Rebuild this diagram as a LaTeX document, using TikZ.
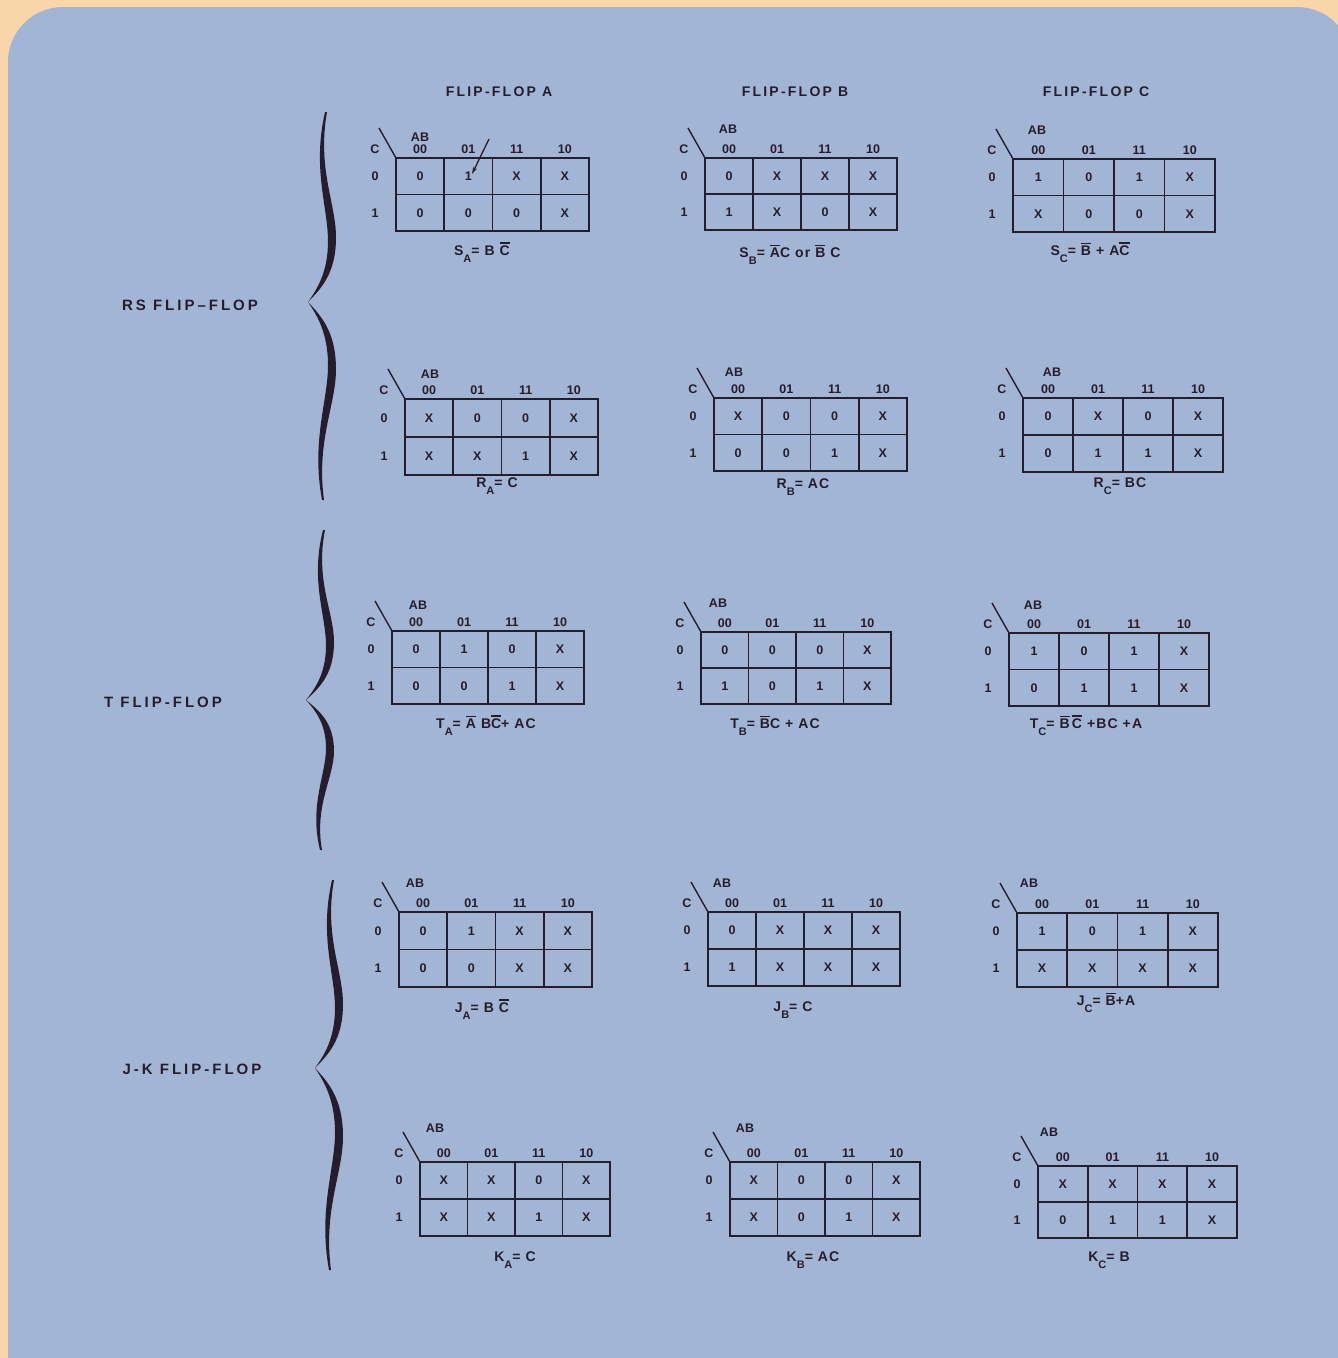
\documentclass[tikz,border=0pt]{standalone}
\usepackage{fontspec}
\setmainfont{Liberation Sans}
\newfontfamily\labfont[LetterSpace=16]{Liberation Sans}
\newfontfamily\sidefont[LetterSpace=20]{Liberation Sans}
\newfontfamily\eqfont[LetterSpace=8]{Liberation Sans}
\usetikzlibrary{arrows.meta}
\definecolor{bgorange}{HTML}{F8D6A8}
\definecolor{bgblue}{HTML}{A3B5D5}
\definecolor{ink}{HTML}{261D2C}
\newcommand{\ovl}[1]{\leavevmode\vbox{\hrule height 1.2pt\kern 1.6pt\hbox{#1}}}
\newcommand{\lsub}[1]{\raisebox{-1.0ex}{\fontsize{11}{11}\selectfont #1}}
\tikzset{
  gridline/.style={draw=ink, line width=1.8pt},
  cell/.style={text=ink, font=\bfseries\fontsize{12.5}{12.5}\selectfont, inner sep=0pt, anchor=center},
  hdr/.style={text=ink, font=\labfont\bfseries\fontsize{14}{14}\selectfont, inner sep=0pt},
  eqn/.style={text=ink, font=\eqfont\bfseries\fontsize{14}{14}\selectfont, inner sep=0pt, anchor=base},
  side/.style={text=ink, font=\sidefont\bfseries\fontsize{15}{15}\selectfont, inner sep=0pt},
}
% #1 name, #2 x0, #3 y0, #4 x1, #5 y1, #6 row0, #7 row1, #8 AB dx, #9 AB dy
\newcommand{\kmap}[9]{%
  \pgfmathsetmacro{\kw}{(#4-#2)/4}%
  \pgfmathsetmacro{\kh}{(#5-#3)/2}%
  \draw[gridline] (#2,#3) rectangle (#4,#5);
  \draw[gridline] (#2,{#3+\kh}) -- (#4,{#3+\kh});
  \foreach \i in {1,2,3} \draw[gridline] ({#2+\i*\kw},#3) -- ({#2+\i*\kw},#5);
  \foreach \v [count=\i] in {#6} \node[cell] (#1-a\i) at ({#2+(\i-0.5)*\kw},{#3+0.5*\kh}) {\v};
  \foreach \v [count=\i] in {#7} \node[cell] (#1-b\i) at ({#2+(\i-0.5)*\kw},{#3+1.5*\kh}) {\v};
  \foreach \v [count=\i] in {00,01,11,10} \node[cell] (#1-h\i) at ({#2+(\i-0.5)*\kw},{#3-9}) {\v};
  \node[cell] (#1-c) at ({#2-21},{#3-9}) {C};
  \node[cell] (#1-c0) at ({#2-21},{#3+0.5*\kh}) {0};
  \node[cell] (#1-c1) at ({#2-21},{#3+1.5*\kh}) {1};
  \node[cell] (#1-ab) at ({#2+#8},{#3+#9}) {AB};
  \coordinate (#1-d) at ({#2-17},{#3-30});
  \coordinate (#1-o) at (#2,#3);
  \draw[gridline, line width=1.4pt] (#1-d) -- (#1-o);
}
% #1 name, #2 xtip, #3 ytop, #4 ytip, #5 ybot
\newcommand{\fbrace}[5]{%
  \pgfmathsetmacro{\hu}{#4-#3}%
  \pgfmathsetmacro{\hl}{#5-#4}%
  \coordinate (#1-top) at ({#2+17},#3);
  \coordinate (#1-tip) at (#2,#4);
  \coordinate (#1-bot) at ({#2+14},#5);
  \fill[ink] (#1-top) .. controls ({#2+4},{#3+0.3*\hu}) and ({#2+20},{#3+0.5*\hu}) .. ({#2+20},{#3+0.68*\hu})
     .. controls ({#2+20},{#3+0.85*\hu}) and ({#2+8},{#4-0.06*\hu}) .. (#1-tip)
     .. controls ({#2+13},{#4-0.07*\hu}) and ({#2+28},{#3+0.85*\hu}) .. ({#2+28},{#3+0.66*\hu})
     .. controls ({#2+28},{#3+0.48*\hu}) and ({#2+9},{#3+0.3*\hu}) .. ({#2+19},#3) -- cycle;
  \fill[ink] (#1-tip) .. controls ({#2+8},{#4+0.06*\hl}) and ({#2+20},{#5-0.85*\hl}) .. ({#2+20},{#5-0.68*\hl})
     .. controls ({#2+20},{#5-0.5*\hl}) and ({#2+3},{#5-0.3*\hl}) .. (#1-bot)
     -- ({#2+16},#5) .. controls ({#2+8},{#5-0.3*\hl}) and ({#2+28},{#5-0.48*\hl}) .. ({#2+28},{#5-0.66*\hl})
     .. controls ({#2+28},{#5-0.85*\hl}) and ({#2+13},{#4+0.07*\hl}) .. (#1-tip) -- cycle;
}
\begin{document}
\begin{tikzpicture}[x=1pt,y=-1pt]
\useasboundingbox (0,0) rectangle (1338,1358);
\fill[bgorange] (0,0) rectangle (1338,1358);
\fill[bgblue, rounded corners=55pt] (8,7) rectangle (1352,1420);

% column headings
\node[hdr] (hA) at (499,92) {FLIP-FLOP A};
\node[hdr] (hB) at (795,92) {FLIP-FLOP B};
\node[hdr] (hC) at (1096,92) {FLIP-FLOP C};

% side labels
\node[side] (rs-lab) at (190,305) {RS FLIP–FLOP};
\node[side] (t-lab) at (163,702) {T FLIP-FLOP};
\node[side] (jk-lab) at (192,1069) {J-K FLIP-FLOP};

% braces
\fbrace{brs}{308}{112}{302}{500}
\fbrace{bt}{306}{530}{700}{850}
\fbrace{bjk}{315}{880}{1068}{1270}

% RS: S maps
\kmap{sa}{396}{158}{589}{231}{0,1,X,X}{0,0,0,X}{24}{-21}
\kmap{sb}{705}{158}{897}{230}{0,X,X,X}{1,X,0,X}{23}{-29}
\kmap{sc}{1013}{159}{1215}{232}{1,0,1,X}{X,0,0,X}{24}{-29}
\coordinate (sa-m1) at (489,139);
\coordinate (sa-m2) at (472,174);
\draw[ink, line width=1.3pt, -{Stealth[length=7pt,width=4pt]}] (sa-m1) -- (sa-m2);
\node[eqn] (sa-eq) at (482,255) {S\lsub{A}= B \ovl{C}};
\node[eqn] (sb-eq) at (790,257) {S\lsub{B}= \ovl{A}C or \ovl{B} C};
\node[eqn] (sc-eq) at (1090,255) {S\lsub{C}= \ovl{B} + A\ovl{C}};

% RS: R maps
\kmap{ra}{405}{399}{598}{475}{X,0,0,X}{X,X,1,X}{25}{-25}
\kmap{rb}{714}{398}{907}{471}{X,0,0,X}{0,0,1,X}{20}{-26}
\kmap{rc}{1023}{398}{1223}{472}{0,X,0,X}{0,1,1,X}{29}{-26}
\node[eqn] (ra-eq) at (497,487) {R\lsub{A}= C};
\node[eqn] (rb-eq) at (803,488) {R\lsub{B}= AC};
\node[eqn] (rc-eq) at (1120,487) {R\lsub{C}= BC};

% T maps
\kmap{ta}{392}{631}{584}{704}{0,1,0,X}{0,0,1,X}{26}{-26}
\kmap{tb}{701}{632}{891}{704}{0,0,0,X}{1,0,1,X}{17}{-29}
\kmap{tc}{1009}{633}{1209}{706}{1,0,1,X}{0,1,1,X}{24}{-28}
\node[eqn] (ta-eq) at (486,728) {T\lsub{A}= \ovl{A} B\ovl{C}+ AC};
\node[eqn] (tb-eq) at (775,728) {T\lsub{B}= \ovl{B}C + AC};
\node[eqn] (tc-eq) at (1086,728) {T\lsub{C}= \ovl{B}\,\ovl{C} +BC +A};

% J maps
\kmap{ja}{399}{912}{592}{987}{0,1,X,X}{0,0,X,X}{16}{-29}
\kmap{jb}{708}{912}{900}{986}{0,X,X,X}{1,X,X,X}{14}{-29}
\kmap{jc}{1017}{913}{1218}{987}{1,0,1,X}{X,X,X,X}{12}{-30}
\node[eqn] (ja-eq) at (482,1012) {J\lsub{A}= B \ovl{C}};
\node[eqn] (jb-eq) at (793,1011) {J\lsub{B}= C};
\node[eqn] (jc-eq) at (1106,1005) {J\lsub{C}= \ovl{B}+A};

% K maps
\kmap{ka}{420}{1162}{610}{1236}{X,X,0,X}{X,X,1,X}{15}{-34}
\kmap{kb}{730}{1162}{920}{1236}{X,0,0,X}{X,0,1,X}{15}{-34}
\kmap{kc}{1038}{1166}{1237}{1238}{X,X,X,X}{0,1,1,X}{11}{-34}
\node[eqn] (ka-eq) at (515,1261) {K\lsub{A}= C};
\node[eqn] (kb-eq) at (813,1261) {K\lsub{B}= AC};
\node[eqn] (kc-eq) at (1109,1261) {K\lsub{C}= B};
\end{tikzpicture}
\end{document}
